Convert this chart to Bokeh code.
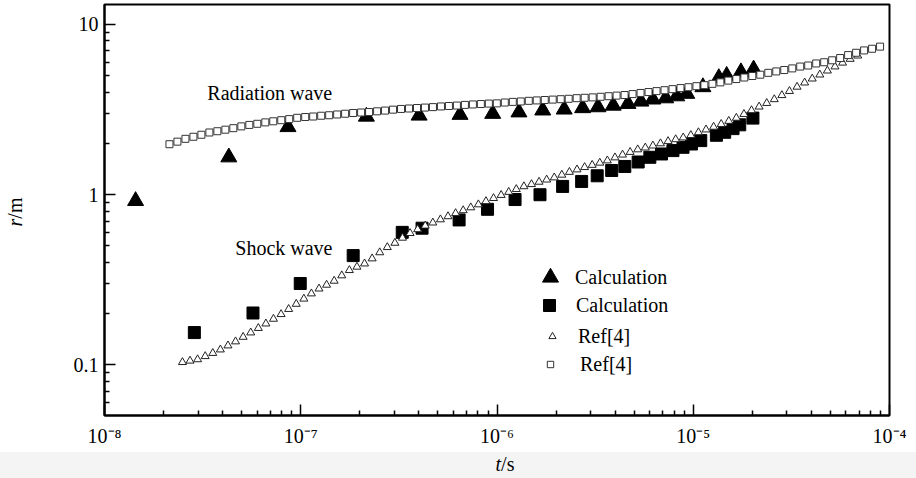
from bokeh.plotting import figure
from bokeh.models import (Range1d, FixedTicker, CustomJSTickFormatter, Label,
                          Legend, LegendItem, Div)
from bokeh.layouts import column, row
from bokeh.embed import file_html
from bokeh.resources import INLINE

FONT = "Liberation Serif"

# ---------------- data ----------------
# Calculation, radiation wave (filled triangles)
calc_rad_t = [1.44e-8, 4.30e-8, 8.61e-8, 2.16e-7, 4.01e-7, 6.48e-7, 9.51e-7, 1.294e-6,
              1.71e-6, 2.20e-6, 2.73e-6, 3.27e-6, 3.91e-6, 4.65e-6, 5.41e-6, 6.22e-6,
              7.24e-6, 8.24e-6, 9.27e-6, 1.12e-5, 1.35e-5, 1.48e-5, 1.75e-5, 2.03e-5]
calc_rad_r = [0.92, 1.66, 2.50, 2.88, 2.92, 2.95, 2.99, 3.05,
              3.13, 3.17, 3.23, 3.27, 3.34, 3.42, 3.53, 3.63,
              3.69, 3.79, 3.92, 4.29, 4.85, 5.00, 5.25, 5.45]

# Calculation, shock wave (filled squares)
calc_shock_t = [2.87e-8, 5.71e-8, 9.94e-8, 1.85e-7, 3.29e-7, 4.15e-7, 6.41e-7, 8.95e-7,
                1.236e-6, 1.656e-6, 2.16e-6, 2.70e-6, 3.24e-6, 3.84e-6, 4.48e-6, 5.24e-6,
                6.01e-6, 6.89e-6, 7.88e-6, 8.87e-6, 9.79e-6, 1.092e-5, 1.312e-5, 1.446e-5,
                1.595e-5, 1.725e-5, 2.014e-5]
calc_shock_r = [0.155, 0.202, 0.301, 0.439, 0.601, 0.636, 0.711, 0.821,
                0.937, 1.000, 1.119, 1.197, 1.292, 1.388, 1.466, 1.557,
                1.659, 1.735, 1.816, 1.899, 1.986, 2.079, 2.234, 2.326,
                2.445, 2.574, 2.818]

# Ref[4], shock wave (open triangles)
ref_shock_t = [2.495e-8, 2.727e-8, 2.981e-8, 3.259e-8, 3.562e-8, 3.894e-8, 4.257e-8, 4.653e-8, 5.086e-8, 5.560e-8,
               6.078e-8, 6.643e-8, 7.262e-8, 7.938e-8, 8.677e-8, 9.485e-8, 1.037e-7, 1.133e-7, 1.239e-7, 1.354e-7,
               1.480e-7, 1.618e-7, 1.769e-7, 1.934e-7, 2.114e-7, 2.311e-7, 2.526e-7, 2.761e-7, 3.018e-7, 3.299e-7,
               3.606e-7, 3.942e-7, 4.309e-7, 4.710e-7, 5.149e-7, 5.628e-7, 6.152e-7, 6.725e-7, 7.351e-7, 8.036e-7,
               8.784e-7, 9.602e-7, 1.0496e-6, 1.147e-6, 1.254e-6, 1.371e-6, 1.499e-6, 1.638e-6, 1.791e-6, 1.958e-6,
               2.140e-6, 2.339e-6, 2.557e-6, 2.795e-6, 3.055e-6, 3.340e-6, 3.651e-6, 3.991e-6, 4.362e-6, 4.768e-6,
               5.212e-6, 5.697e-6, 6.228e-6, 6.808e-6, 7.442e-6, 8.135e-6, 8.892e-6, 9.720e-6, 1.0625e-5, 1.1614e-5,
               1.2696e-5, 1.3878e-5, 1.5170e-5, 1.6582e-5, 1.8126e-5, 1.9814e-5, 2.1659e-5, 2.3675e-5, 2.5880e-5, 2.8289e-5,
               3.0923e-5, 3.3802e-5, 3.6949e-5, 4.0389e-5, 4.4150e-5, 4.8260e-5, 5.2754e-5, 5.7665e-5, 6.3034e-5, 6.8903e-5]
ref_shock_r = [0.1038, 0.1058, 0.1078, 0.1125, 0.1174, 0.1231, 0.1300, 0.1373, 0.1460, 0.1549,
               0.1646, 0.1749, 0.1864, 0.1986, 0.2128, 0.2282, 0.2448, 0.2627, 0.2806, 0.2954,
               0.3118, 0.3353, 0.3601, 0.3770, 0.3938, 0.4218, 0.4581, 0.4914, 0.5208, 0.5579,
               0.5943, 0.6259, 0.6571, 0.6851, 0.7153, 0.7458, 0.7779, 0.8090, 0.8413, 0.8760,
               0.9147, 0.9539, 0.9947, 1.037, 1.077, 1.119, 1.152, 1.189, 1.225, 1.261,
               1.308, 1.359, 1.405, 1.450, 1.494, 1.539, 1.587, 1.653, 1.717, 1.780,
               1.843, 1.889, 1.941, 2.000, 2.060, 2.113, 2.165, 2.236, 2.323, 2.412,
               2.502, 2.598, 2.709, 2.825, 2.974, 3.130, 3.287, 3.451, 3.632, 3.838,
               4.058, 4.300, 4.551, 4.803, 5.070, 5.351, 5.656, 5.955, 6.268, 6.553]

# Ref[4], radiation wave (open squares)
ref_rad_t = [2.143e-8, 2.353e-8, 2.585e-8, 2.839e-8, 3.117e-8, 3.423e-8, 3.760e-8, 4.129e-8, 4.534e-8, 4.980e-8,
             5.469e-8, 6.006e-8, 6.596e-8, 7.243e-8, 7.955e-8, 8.736e-8, 9.594e-8, 1.054e-7, 1.157e-7, 1.271e-7,
             1.396e-7, 1.533e-7, 1.683e-7, 1.849e-7, 2.030e-7, 2.230e-7, 2.449e-7, 2.689e-7, 2.953e-7, 3.243e-7,
             3.562e-7, 3.911e-7, 4.295e-7, 4.717e-7, 5.181e-7, 5.689e-7, 6.248e-7, 6.862e-7, 7.536e-7, 8.276e-7,
             9.088e-7, 9.981e-7, 1.096e-6, 1.204e-6, 1.322e-6, 1.452e-6, 1.594e-6, 1.751e-6, 1.923e-6, 2.112e-6,
             2.319e-6, 2.547e-6, 2.797e-6, 3.072e-6, 3.373e-6, 3.705e-6, 4.068e-6, 4.468e-6, 4.907e-6, 5.389e-6,
             5.918e-6, 6.499e-6, 7.137e-6, 7.838e-6, 8.608e-6, 9.453e-6, 1.038e-5, 1.140e-5, 1.252e-5, 1.375e-5,
             1.510e-5, 1.658e-5, 1.821e-5, 2.000e-5, 2.196e-5, 2.412e-5, 2.649e-5, 2.909e-5, 3.195e-5, 3.508e-5,
             3.853e-5, 4.231e-5, 4.647e-5, 5.103e-5, 5.604e-5, 6.155e-5, 6.759e-5, 7.423e-5, 8.152e-5, 8.953e-5]
ref_rad_r = [1.98, 2.05, 2.13, 2.19, 2.25, 2.32, 2.36, 2.41, 2.46, 2.52,
             2.57, 2.61, 2.66, 2.70, 2.74, 2.78, 2.83, 2.86, 2.88, 2.91,
             2.93, 2.96, 2.99, 3.02, 3.04, 3.06, 3.09, 3.12, 3.16, 3.19,
             3.21, 3.23, 3.25, 3.27, 3.30, 3.32, 3.34, 3.37, 3.39, 3.41,
             3.43, 3.44, 3.48, 3.51, 3.53, 3.56, 3.58, 3.60, 3.62, 3.64,
             3.66, 3.69, 3.71, 3.73, 3.76, 3.79, 3.82, 3.85, 3.90, 3.96,
             4.01, 4.06, 4.11, 4.17, 4.23, 4.28, 4.34, 4.40, 4.48, 4.57,
             4.68, 4.78, 4.88, 4.98, 5.07, 5.20, 5.30, 5.40, 5.52, 5.66,
             5.74, 5.90, 6.00, 6.16, 6.35, 6.61, 6.82, 7.04, 7.20, 7.41]

x_major_ticks = [1e-8, 1e-7, 1e-6, 1e-5, 1e-4]
y_major_ticks = [0.1, 1, 10]
legend_labels = ["Calculation", "Calculation", "Ref[4]", "Ref[4]"]
annotations = [("Radiation wave", 3.34e-8, 3.97), ("Shock wave", 4.64e-8, 0.489)]
x_title_html = "<i>t</i>/s"
y_title_html = "<i>r</i>/m"

# ---------------- figure ----------------
YLAB_W = 30
FIG_H = 452
p = figure(width=916 - YLAB_W, height=FIG_H, x_axis_type="log", y_axis_type="log",
           x_range=Range1d(1e-8, 1e-4), y_range=Range1d(0.0505, 13.1),
           output_backend="svg", toolbar_location=None,
           min_border_left=104 - YLAB_W, min_border_right=27, min_border_top=4,
           min_border_bottom=FIG_H - 415)
p.background_fill_color = "white"
p.border_fill_color = "white"
p.outline_line_color = "black"
p.outline_line_width = 2
p.xgrid.visible = False
p.ygrid.visible = False

x_minor = [k * m for m in [1e-8, 1e-7, 1e-6, 1e-5] for k in range(2, 10)]
y_minor = [k * m for m in [0.01, 0.1, 1] for k in range(2, 10) if k * m > 0.05]
p.xaxis.ticker = FixedTicker(ticks=x_major_ticks, minor_ticks=x_minor)
p.yaxis.ticker = FixedTicker(ticks=y_major_ticks, minor_ticks=y_minor)
p.xaxis.formatter = CustomJSTickFormatter(code="""
const sup = {"-": "\u207b", "0": "\u2070", "1": "\u00b9", "2": "\u00b2", "3": "\u00b3",
             "4": "\u2074", "5": "\u2075", "6": "\u2076", "7": "\u2077", "8": "\u2078", "9": "\u2079"};
const e = Math.round(Math.log10(tick));
return "10" + String(e).split("").map(c => sup[c]).join("");
""")
p.yaxis.formatter = CustomJSTickFormatter(code="""
if (tick >= 1) { return String(Math.round(tick)); }
return tick.toFixed(1);
""")

for ax in (p.xaxis[0], p.yaxis[0]):
    ax.axis_line_width = 2
    ax.axis_line_color = "black"
    ax.major_tick_in = 11
    ax.major_tick_out = 0
    ax.minor_tick_in = 5
    ax.minor_tick_out = 0
    ax.major_tick_line_width = 1.5
    ax.minor_tick_line_width = 1.5
    ax.major_tick_line_color = "black"
    ax.minor_tick_line_color = "black"
    ax.major_label_text_font = FONT
    ax.major_label_text_font_size = "20px"
    ax.major_label_text_color = "black"
p.xaxis.major_label_standoff = 9
p.yaxis.major_label_standoff = 6

# ---------------- series ----------------
r_calc_rad = p.scatter(calc_rad_t, calc_rad_r, marker="triangle", size=16,
                       fill_color="black", line_color="black")
r_calc_shock = p.scatter(calc_shock_t, calc_shock_r, marker="square", size=12,
                         fill_color="black", line_color="black")
r_ref_shock = p.scatter(ref_shock_t, ref_shock_r, marker="triangle", size=8,
                        fill_color="white", line_color="#222222", line_width=1)
r_ref_rad = p.scatter(ref_rad_t, ref_rad_r, marker="square", size=7,
                      fill_color="white", line_color="#333333", line_width=1)

# ---------------- legends (one per row so marker sizes match) ----------------
legend_specs = [
    (r_calc_rad, 40, 40, (426, 118), 5),
    (r_calc_shock, 30, 30, (430, 95), 12),
    (r_ref_shock, 18, 30, (439, 64), 17),
    (r_ref_rad, 16, 30, (438, 36), 22),
]
for (rend, gw, gh, loc, standoff), lab in zip(legend_specs, legend_labels):
    lg = Legend(items=[LegendItem(label=lab, renderers=[rend])], location=loc,
                glyph_width=gw, glyph_height=gh, label_standoff=standoff,
                padding=0, margin=0, spacing=0, border_line_alpha=0,
                background_fill_alpha=0, label_text_font=FONT,
                label_text_font_size="20px", label_text_color="black")
    p.add_layout(lg)

# ---------------- text annotations ----------------
for txt, tx, ty in annotations:
    p.add_layout(Label(x=tx, y=ty, text=txt, text_font=FONT, text_font_size="20px",
                       text_color="black", text_baseline="alphabetic", text_align="left"))

# ---------------- axis titles (italic symbol + upright unit) ----------------
y_title = Div(
    text=('<div style="position:relative; left:15px; top:212px; width:max-content; '
          'line-height:1; white-space:nowrap; transform:translate(-50%,-50%) rotate(-90deg); '
          f'font-family:\'{FONT}\'; font-size:20px; color:black;">{y_title_html}</div>'),
    width=YLAB_W, height=FIG_H, margin=0,
    styles={"background-color": "white", "overflow": "visible"})
x_title = Div(
    text=('<div style="position:relative; left:505px; top:12px; width:max-content; '
          'line-height:1; white-space:nowrap; transform:translate(-50%,-50%); '
          f'font-family:\'{FONT}\'; font-size:20px; color:black;">{x_title_html}</div>'),
    width=916, height=478 - FIG_H, margin=0,
    styles={"background-color": "#f4f4f4", "overflow": "hidden"})

layout = column(row(y_title, p, spacing=0), x_title, spacing=0)

open("out.html", "w").write(file_html(layout, INLINE))
